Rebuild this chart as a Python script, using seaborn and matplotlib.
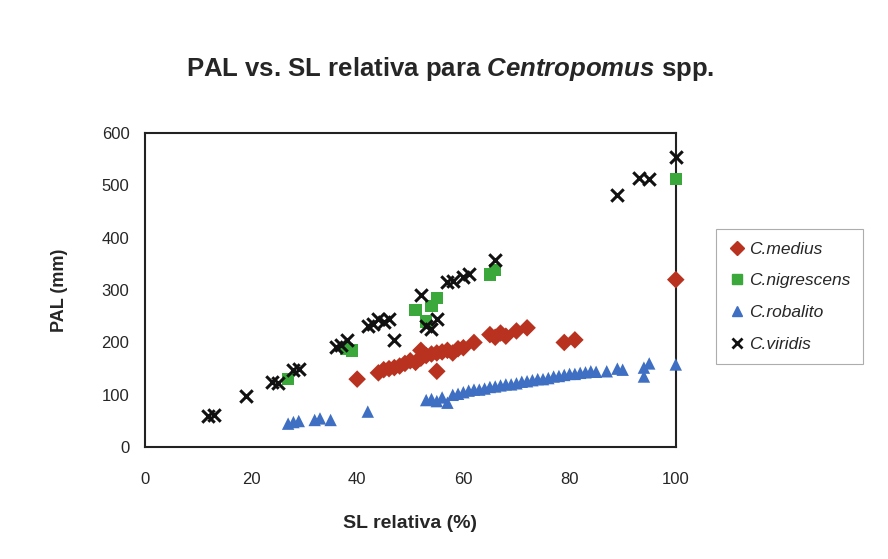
import matplotlib
matplotlib.use("Agg")
import matplotlib.pyplot as plt
import seaborn as sns
import pandas as pd
from matplotlib.lines import Line2D

sns.set_style("white")
plt.rcParams['font.family'] = ['Liberation Sans', 'DejaVu Sans']
plt.rcParams['mathtext.fontset'] = 'custom'
plt.rcParams['mathtext.it'] = 'Liberation Sans:italic:bold'
plt.rcParams['mathtext.rm'] = 'Liberation Sans:bold'

species = ["C.medius", "C.nigrescens", "C.robalito", "C.viridis"]

medius_x = [40, 44, 45, 46, 47, 48, 49, 50, 51, 52, 52, 53, 54, 55, 55, 56, 57, 58, 59, 60,
            62, 65, 66, 67, 68, 70, 72, 79, 81, 100]
medius_y = [130, 142, 148, 150, 152, 155, 160, 165, 162, 170, 185, 175, 178, 180, 145, 182, 185, 180, 188, 190,
            200, 215, 210, 218, 212, 222, 228, 200, 205, 320]

nigrescens_x = [27, 38, 39, 51, 53, 54, 55, 65, 66, 100]
nigrescens_y = [130, 188, 185, 262, 240, 270, 285, 330, 338, 512]

robalito_x = [27, 28, 29, 32, 33, 35, 42, 53, 54, 55, 56, 57, 58, 59, 60, 61, 62, 63, 64, 65,
              66, 67, 68, 69, 70, 71, 72, 73, 74, 75, 76, 77, 78, 79, 80, 81, 82, 83, 84, 85,
              87, 89, 90, 94, 94, 95, 100]
robalito_y = [45, 48, 50, 52, 55, 52, 68, 90, 92, 88, 95, 85, 100, 102, 105, 108, 110, 110, 112, 115,
              116, 118, 120, 120, 122, 125, 126, 128, 130, 130, 132, 135, 136, 138, 140, 140, 142, 143, 145, 144,
              145, 150, 148, 135, 152, 160, 158]

viridis_x = [12, 13, 19, 24, 25, 28, 29, 36, 37, 38, 42, 43, 44, 45, 46, 47, 52, 53, 54, 55,
             57, 58, 60, 61, 66, 89, 93, 95, 100]
viridis_y = [60, 62, 98, 125, 122, 148, 150, 192, 195, 205, 232, 235, 245, 240, 245, 205, 290, 232, 225, 245,
             315, 318, 325, 330, 358, 482, 515, 512, 555]

xs = [medius_x, nigrescens_x, robalito_x, viridis_x]
ys = [medius_y, nigrescens_y, robalito_y, viridis_y]
rows = []
for sp, xx, yy in zip(species, xs, ys):
    for a, b in zip(xx, yy):
        rows.append({"SL": a, "PAL": b, "Especie": sp})
df = pd.DataFrame(rows)

palette = {"C.medius": "#b8321f", "C.nigrescens": "#3aa83a",
           "C.robalito": "#3f6fc2", "C.viridis": "#111111"}
markers = {"C.medius": "D", "C.nigrescens": "s", "C.robalito": "^", "C.viridis": "X"}

fig = plt.figure(figsize=(8.88, 5.59), dpi=100)
ax = fig.add_axes([0.163, 0.200, 0.598, 0.562])

base = df[df["Especie"] != "C.viridis"]
sns.scatterplot(data=base, x="SL", y="PAL", hue="Especie", style="Especie",
                palette=palette, markers=markers, hue_order=species[:3], style_order=species[:3],
                s=80, linewidth=0, ax=ax, legend=False, clip_on=False, zorder=3)
vir = df[df["Especie"] == "C.viridis"]
sns.scatterplot(data=vir, x="SL", y="PAL", color="#111111", marker="x",
                s=80, linewidth=2.2, ax=ax, legend=False, clip_on=False, zorder=4)

ax.set_xlim(0, 100)
ax.set_ylim(0, 600)
ax.set_xticks([0, 20, 40, 60, 80, 100])
ax.set_yticks([0, 100, 200, 300, 400, 500, 600])
ax.tick_params(axis='x', labelsize=12, length=4, direction='inout', color='#333333', pad=16)
ax.tick_params(axis='y', labelsize=12, length=4, direction='inout', color='#333333', pad=9)
for sp in ax.spines.values():
    sp.set_color('#222222')
    sp.set_linewidth(1.5)

ax.set_xlabel("SL relativa (%)", fontsize=14, fontweight='bold', labelpad=20)
ax.set_ylabel("PAL (mm)", fontsize=13, fontweight='bold', labelpad=24)

fig.text(0.507, 0.876, r"PAL vs. SL relativa para $\mathit{Centropomus}$ spp.",
         ha='center', va='center', fontsize=18.5, fontweight='bold')

handles = [
    Line2D([], [], marker='D', color=palette["C.medius"], linestyle='', markersize=7),
    Line2D([], [], marker='s', color=palette["C.nigrescens"], linestyle='', markersize=7),
    Line2D([], [], marker='^', color=palette["C.robalito"], linestyle='', markersize=7),
    Line2D([], [], marker='x', color="#111111", linestyle='', markersize=7, markeredgewidth=2),
]
leg = fig.legend(handles, species, loc='upper left', bbox_to_anchor=(0.797, 0.605),
                 frameon=True, fancybox=False, edgecolor='#999999',
                 prop={'style': 'italic', 'size': 12.5}, handletextpad=0.2,
                 handlelength=1.0, labelspacing=0.95, borderpad=0.7)
leg.get_frame().set_linewidth(0.8)

fig.savefig("out.png", dpi=100, facecolor='white')
